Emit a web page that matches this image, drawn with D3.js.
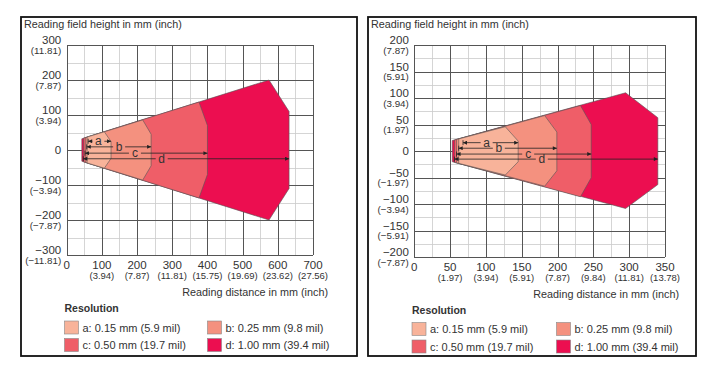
<!DOCTYPE html>
<html>
<head>
<meta charset="utf-8">
<script src="https://cdn.jsdelivr.net/npm/d3@7"></script>
<style>
  html, body { margin: 0; padding: 0; background: #fff; }
  svg { display: block; font-family: "Liberation Sans", Arial, sans-serif; }
</style>
</head>
<body>
<div id="chart-container"></div>
<script>
// ---- data ----
const zoneNames = ["a", "b", "c", "d"];
const legendLabels = [
  "a: 0.15 mm (5.9 mil)",
  "b: 0.25 mm (9.8 mil)",
  "c: 0.50 mm (19.7 mil)",
  "d: 1.00 mm (39.4 mil)",
];

// left diagram
const leftXTicks = [0, 100, 200, 300, 400, 500, 600, 700];
const leftXInch = ["", "(3.94)", "(7.87)", "(11.81)", "(15.75)", "(19.69)", "(23.62)", "(27.56)"];
const leftYTicks = [300, 200, 100, 0, -100, -200, -300];
const leftYInch = ["(11.81)", "(7.87)", "(3.94)", "", "(−3.94)", "(−7.87)", "(−11.81)"];
// zone outlines: [distance mm, height mm]
const leftZoneA = [[58, 37], [107, 52], [126, 24], [126, -24], [107, -52], [58, -37]];
const leftZoneB = [[53, 35], [216, 86], [240, 45], [240, -45], [216, -86], [53, -35]];
const leftZoneC = [[48, 34], [376, 137], [400, 70], [400, -70], [376, -137], [48, -34]];
const leftZoneD = [[43, 32], [575, 200], [632, 110], [632, -110], [575, -200], [43, -32]];
const leftArrowStart = [61, 57, 52, 47];
const leftArrowEnd = [126, 240, 400, 632];
const leftArrowHeight = [25, 9, -9, -25];
const leftLabelAt = [90, 149, 194, 270];

// right diagram
const rightXTicks = [0, 50, 100, 150, 200, 250, 300, 350];
const rightXInch = ["", "(1.97)", "(3.94)", "(5.91)", "(7.87)", "(9.84)", "(11.81)", "(13.78)"];
const rightYTicks = [200, 150, 100, 50, 0, -50, -100, -150, -200];
const rightYInch = ["(7.87)", "(5.91)", "(3.94)", "(1.97)", "", "(−1.97)", "(−3.94)", "(−5.91)", "(−7.87)"];
const rightZoneA = [[62, 23], [127, 46], [145, 19], [145, -20], [127, -45], [62, -23]];
const rightZoneB = [[59, 22], [182, 67], [199, 36], [199, -37], [182, -66], [59, -22]];
const rightZoneC = [[56, 21], [232, 86], [247, 50], [247, -50], [232, -86], [56, -21]];
const rightZoneD = [[53, 20], [295, 110], [340, 63], [340, -63], [295, -108], [53, -20]];
const rightArrowStart = [68, 62, 59, 56];
const rightArrowEnd = [145, 199, 247, 340];
const rightArrowHeight = [16, 5.5, -5.5, -15];
const rightLabelAt = [101, 118, 159, 178];

const zoneColors = ["#f8b39a", "#f4917f", "#ef5e68", "#ec0e50"];
const textColor = "#333";

const svg = d3
  .select("#chart-container")
  .append("svg")
  .attr("width", 713)
  .attr("height", 372);

svg
  .append("defs")
  .append("marker")
  .attr("id", "arrow")
  .attr("viewBox", "0 0 10 10")
  .attr("refX", 10)
  .attr("refY", 5)
  .attr("markerUnits", "userSpaceOnUse")
  .attr("markerWidth", 6)
  .attr("markerHeight", 4)
  .attr("orient", "auto-start-reverse")
  .append("path")
  .attr("d", "M0,0L10,5L0,10z")
  .attr("fill", "#222");

function drawPanel(p) {
  const g = svg.append("g");
  const xMin = p.xTicks[0];
  const xMax = p.xTicks[p.xTicks.length - 1];
  const yMax = p.yTicks[0];
  const yMin = p.yTicks[p.yTicks.length - 1];

  const x = d3.scaleLinear().domain([xMin, xMax]).range([p.plot.left, p.plot.right]);
  const y = d3.scaleLinear().domain([yMin, yMax]).range([p.plot.bottom, p.plot.top]);
  const w = p.plot.right - p.plot.left;
  const h = p.plot.bottom - p.plot.top;

  // frame
  g.append("rect")
    .attr("x", p.box.x)
    .attr("y", p.box.y)
    .attr("width", p.box.w)
    .attr("height", p.box.h)
    .attr("fill", "#fff")
    .attr("stroke", "#111")
    .attr("stroke-width", 1.8);

  // grid, minor then major
  const minorX = d3.range(xMin, xMax + 0.1, p.minor);
  const minorY = d3.range(yMin, yMax + 0.1, p.minor);
  const grid = g.append("g");
  [
    { xs: minorX, ys: minorY, color: "#cbcbcb", width: 0.8 },
    { xs: p.xTicks, ys: p.yTicks, color: "#555", width: 1 },
  ].forEach((layer) => {
    const gx = grid
      .append("g")
      .attr("transform", `translate(0,${p.plot.bottom})`)
      .call(d3.axisBottom(x).tickValues(layer.xs).tickSize(-h).tickFormat(""));
    const gy = grid
      .append("g")
      .attr("transform", `translate(${p.plot.left},0)`)
      .call(d3.axisLeft(y).tickValues(layer.ys).tickSize(-w).tickFormat(""));
    [gx, gy].forEach((a) => {
      a.select(".domain").remove();
      a.selectAll(".tick line")
        .attr("stroke", layer.color)
        .attr("stroke-width", layer.width)
        .attr("shape-rendering", "crispEdges");
    });
  });

  // zones, widest first
  const line = d3
    .line()
    .x((d) => x(d[0]))
    .y((d) => y(d[1]));
  const zones = p.zones.map((pts, i) => ({ pts, color: zoneColors[i] }));
  g.selectAll(".zone")
    .data(zones.slice().reverse())
    .join("path")
    .attr("class", "zone")
    .attr("d", (d) => line(d.pts) + "Z")
    .attr("fill", (d) => d.color)
    .attr("stroke", "#555")
    .attr("stroke-width", 0.6);

  // dimension arrows
  zoneNames.forEach((name, i) => {
    const yy = y(p.arrowHeight[i]);
    const lx = x(p.labelAt[i]);
    const gap = 6;
    g.append("line")
      .attr("x1", lx - gap)
      .attr("x2", x(p.arrowStart[i]))
      .attr("y1", yy)
      .attr("y2", yy)
      .attr("stroke", "#222")
      .attr("stroke-width", 0.8)
      .attr("marker-end", "url(#arrow)");
    g.append("line")
      .attr("x1", lx + gap)
      .attr("x2", x(p.arrowEnd[i]))
      .attr("y1", yy)
      .attr("y2", yy)
      .attr("stroke", "#222")
      .attr("stroke-width", 0.8)
      .attr("marker-end", "url(#arrow)");
    g.append("line")
      .attr("x1", x(p.arrowStart[i]))
      .attr("x2", x(p.arrowStart[i]))
      .attr("y1", yy - 2.5)
      .attr("y2", yy + 2.5)
      .attr("stroke", "#222")
      .attr("stroke-width", 0.8);
    g.append("text")
      .attr("x", lx)
      .attr("y", yy + 4)
      .attr("text-anchor", "middle")
      .attr("font-size", 12)
      .attr("fill", textColor)
      .text(name);
  });

  // axis titles
  g.append("text")
    .attr("x", p.box.x + 3)
    .attr("y", p.box.y + 10.5)
    .attr("font-size", 10.8)
    .attr("fill", textColor)
    .text("Reading field height in mm (inch)");
  g.append("text")
    .attr("x", p.xTitleRight)
    .attr("y", p.plot.bottom + 41)
    .attr("text-anchor", "end")
    .attr("font-size", 10.8)
    .attr("fill", textColor)
    .text("Reading distance in mm (inch)");

  // y tick labels
  const yl = g.append("g").attr("text-anchor", "end").attr("fill", textColor);
  p.yTicks.forEach((v, i) => {
    const single = p.yInch[i] === "";
    yl.append("text")
      .attr("x", p.plot.left - 5.5)
      .attr("y", y(v) + (single ? 4 : -1))
      .attr("font-size", 11.5)
      .text(v < 0 ? "−" + Math.abs(v) : v);
    if (!single) {
      yl.append("text")
        .attr("x", p.plot.left - 5.5)
        .attr("y", y(v) + 8.5)
        .attr("font-size", 9.8)
        .text(p.yInch[i]);
    }
  });

  // x tick labels
  const xl = g.append("g").attr("text-anchor", "middle").attr("fill", textColor);
  p.xTicks.forEach((v, i) => {
    xl.append("text")
      .attr("x", x(v))
      .attr("y", p.plot.bottom + 13.5)
      .attr("font-size", 11.5)
      .text(v);
    xl.append("text")
      .attr("x", x(v))
      .attr("y", p.plot.bottom + 23.5)
      .attr("font-size", 9.5)
      .text(p.xInch[i]);
  });

  // legend
  const lg = g.append("g").attr("fill", textColor);
  lg.append("text")
    .attr("x", p.legend.x)
    .attr("y", p.legend.y)
    .attr("font-size", 10.5)
    .attr("font-weight", "bold")
    .text("Resolution");
  legendLabels.forEach((label, i) => {
    const col = i % 2;
    const row = Math.floor(i / 2);
    const sx = p.legend.x + col * p.legend.colGap;
    const sy = p.legend.y + 9 + row * 17.5;
    lg.append("rect")
      .attr("x", sx)
      .attr("y", sy)
      .attr("width", 14)
      .attr("height", 13)
      .attr("fill", zoneColors[i])
      .attr("stroke", "#888")
      .attr("stroke-width", 0.6);
    lg.append("text")
      .attr("x", sx + 18)
      .attr("y", sy + 10.5)
      .attr("font-size", 11)
      .text(label);
  });
}

drawPanel({
  box: { x: 21, y: 17, w: 336, h: 339 },
  plot: { left: 66.7, right: 313, top: 45, bottom: 255 },
  minor: 50,
  xTicks: leftXTicks,
  xInch: leftXInch,
  yTicks: leftYTicks,
  yInch: leftYInch,
  zones: [leftZoneA, leftZoneB, leftZoneC, leftZoneD],
  arrowStart: leftArrowStart,
  arrowEnd: leftArrowEnd,
  arrowHeight: leftArrowHeight,
  labelAt: leftLabelAt,
  xTitleRight: 328,
  legend: { x: 64.5, y: 312, colGap: 143 },
});

drawPanel({
  box: { x: 368, y: 17, w: 328, h: 339 },
  plot: { left: 414.3, right: 665, top: 45, bottom: 257.3 },
  minor: 25,
  xTicks: rightXTicks,
  xInch: rightXInch,
  yTicks: rightYTicks,
  yInch: rightYInch,
  zones: [rightZoneA, rightZoneB, rightZoneC, rightZoneD],
  arrowStart: rightArrowStart,
  arrowEnd: rightArrowEnd,
  arrowHeight: rightArrowHeight,
  labelAt: rightLabelAt,
  xTitleRight: 679,
  legend: { x: 412, y: 313.5, colGap: 144.5 },
});
</script>
</body>
</html>
